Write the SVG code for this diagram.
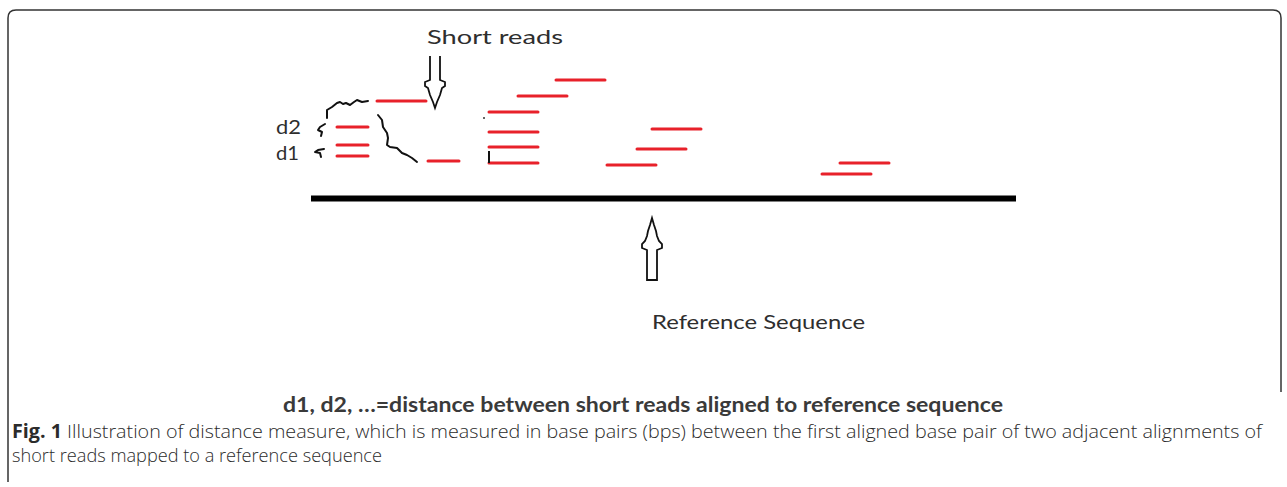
<svg xmlns="http://www.w3.org/2000/svg" width="1287" height="487" viewBox="0 0 1287 487">
<style>
.frame{fill:none;stroke:#333;stroke-width:1.5}
.read{stroke:#e8212a;stroke-width:3;stroke-linecap:round}
.sq{fill:none;stroke:#111;stroke-width:2;stroke-linejoin:round;stroke-linecap:round}
.arrow{fill:#fff;stroke:#111;stroke-width:1.8;stroke-linejoin:miter}
.lbl{font-family:Lato,"Open Sans","Liberation Sans",sans-serif;font-size:19px;fill:#2e2e2e}
.legend{font-family:Lato,"Open Sans","Liberation Sans",sans-serif;font-size:20px;font-weight:bold;fill:#3a3a3a}
.cap{font-family:"Open Sans","Noto Sans","Liberation Sans",sans-serif;font-size:19px;font-weight:300;fill:#2b2b2b}
</style>
<rect width="1287" height="487" fill="#fff"/>
<path class="frame" d="M8,482 L8,18 Q8,10 16,10 L1273,10 Q1281,10 1281,18 L1281,392"/>
<g id="reference-sequence">
<line x1="311" y1="198.5" x2="1016" y2="198.5" stroke="#000" stroke-width="6"/>
<polygon class="arrow" points="647,280 647,250 642,248 642,244 645,241 647,236 648,231 650,225 652,218 654,225 656,231 657,236 659,241 662,244 662,248 657,250 657,280"/>
<text class="lbl" x="652" y="329" textLength="213" lengthAdjust="spacingAndGlyphs">Reference Sequence</text>
</g>
<g id="short-reads-label">
<text class="lbl" x="427" y="44" textLength="136" lengthAdjust="spacingAndGlyphs">Short reads</text>
<polyline class="arrow" points="430,56 430,80 425,82 425,86 428,88 430,95 433,102 435,108 437,102 440,95 442,88 445,86 445,82 440,80 440,56"/>
</g>
<g id="reads">
<line class="read" x1="377" y1="101" x2="426" y2="101"/>
<line class="read" x1="337" y1="127" x2="368" y2="127"/>
<line class="read" x1="337" y1="145" x2="368" y2="145"/>
<line class="read" x1="337" y1="156" x2="368" y2="156"/>
<line class="read" x1="428" y1="161" x2="459" y2="161"/>
<line class="read" x1="556" y1="80" x2="605" y2="80"/>
<line class="read" x1="518" y1="96" x2="567" y2="96"/>
<line class="read" x1="489" y1="112" x2="538" y2="112"/>
<line class="read" x1="489" y1="132" x2="538" y2="132"/>
<line class="read" x1="489" y1="147" x2="538" y2="147"/>
<line class="read" x1="489" y1="163" x2="538" y2="163"/>
<line class="read" x1="652" y1="129" x2="701" y2="129"/>
<line class="read" x1="637" y1="149" x2="686" y2="149"/>
<line class="read" x1="607" y1="165" x2="656" y2="165"/>
<line class="read" x1="840" y1="163" x2="889" y2="163"/>
<line class="read" x1="822" y1="174" x2="871" y2="174"/>
</g>
<g id="distances">
<text class="lbl" x="276" y="134" font-size="20" textLength="25" lengthAdjust="spacingAndGlyphs">d2</text>
<text class="lbl" x="276" y="160" font-size="20" textLength="23" lengthAdjust="spacingAndGlyphs">d1</text>
<path class="sq" d="M327,118 L327,110 L332,107 L337,103 L340,102 L343,104 L346,103 L350,105 L354,102 L357,100 L362,102 L368,101"/>
<path class="sq" d="M378,115 L382,120 L383,127 L387,133 L388,138 L387,145 L390,147 L397,148 L402,153 L407,155 L412,158 L417,162"/>
<path class="sq" d="M325,124 L320,127 L318,130 L322,132 L321,136"/>
<path class="sq" d="M324,149 L318,150 L315,152 L320,153 L321,157"/>
<line x1="489" y1="151" x2="489" y2="163" stroke="#111" stroke-width="2"/>
<circle cx="484" cy="118" r="1" fill="#333"/>
</g>
<text class="legend" x="283" y="412" textLength="720" lengthAdjust="spacingAndGlyphs">d1, d2, …=distance between short reads aligned to reference sequence</text>
<text class="cap" x="12" y="438" textLength="1250" lengthAdjust="spacingAndGlyphs"><tspan font-weight="bold">Fig. 1</tspan> Illustration of distance measure, which is measured in base pairs (bps) between the first aligned base pair of two adjacent alignments of</text>
<text class="cap" x="12" y="462" textLength="370" lengthAdjust="spacingAndGlyphs">short reads mapped to a reference sequence</text>
</svg>
